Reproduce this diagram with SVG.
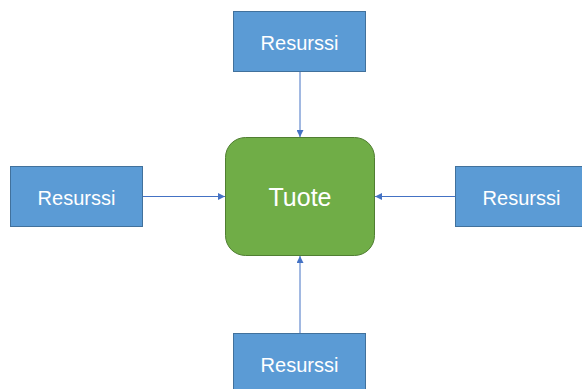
<svg xmlns="http://www.w3.org/2000/svg" width="582" height="389" viewBox="0 0 582 389">
<style>
.res rect{fill:#5B9BD5;stroke:#41719C;stroke-width:1}
.res text{fill:#fff;font-family:"Liberation Sans",Arial,sans-serif;font-size:20px;text-anchor:middle}
.prod rect{fill:#70AD47;stroke:#507E32;stroke-width:1}
.prod text{fill:#fff;font-family:"Liberation Sans",Arial,sans-serif;font-size:25px;text-anchor:middle}
.conn line{stroke:#4472C4;stroke-width:1;marker-end:url(#ah)}
</style>
<defs>
<marker id="ah" viewBox="0 0 10 10" refX="10" refY="5" markerWidth="7" markerHeight="7" markerUnits="userSpaceOnUse" orient="auto">
<path d="M0,0 L10,5 L0,10 Z" fill="#4472C4"/>
</marker>
</defs>
<rect width="582" height="389" fill="#fff"/>
<g id="tuote" class="prod">
<rect x="225.5" y="137.5" width="149" height="118" rx="20" ry="20"/>
<text x="300" y="205.5">Tuote</text>
</g>
<g id="resurssi-top" class="res">
<rect x="233.5" y="11.5" width="132" height="60"/>
<text x="299.5" y="49.5">Resurssi</text>
</g>
<g id="resurssi-left" class="res">
<rect x="10.5" y="166.5" width="132" height="60"/>
<text x="76.5" y="204.5">Resurssi</text>
</g>
<g id="resurssi-right" class="res">
<rect x="455.5" y="166.5" width="132" height="60"/>
<text x="521.5" y="204.5">Resurssi</text>
</g>
<g id="resurssi-bottom" class="res">
<rect x="233.5" y="333.5" width="132" height="60"/>
<text x="299.5" y="371.5">Resurssi</text>
</g>
<g id="connectors" class="conn">
<line x1="300" y1="72" x2="300" y2="137"/>
<line x1="143" y1="196.5" x2="225" y2="196.5"/>
<line x1="455" y1="196.5" x2="375" y2="196.5"/>
<line x1="300" y1="333" x2="300" y2="256"/>
</g>
</svg>
